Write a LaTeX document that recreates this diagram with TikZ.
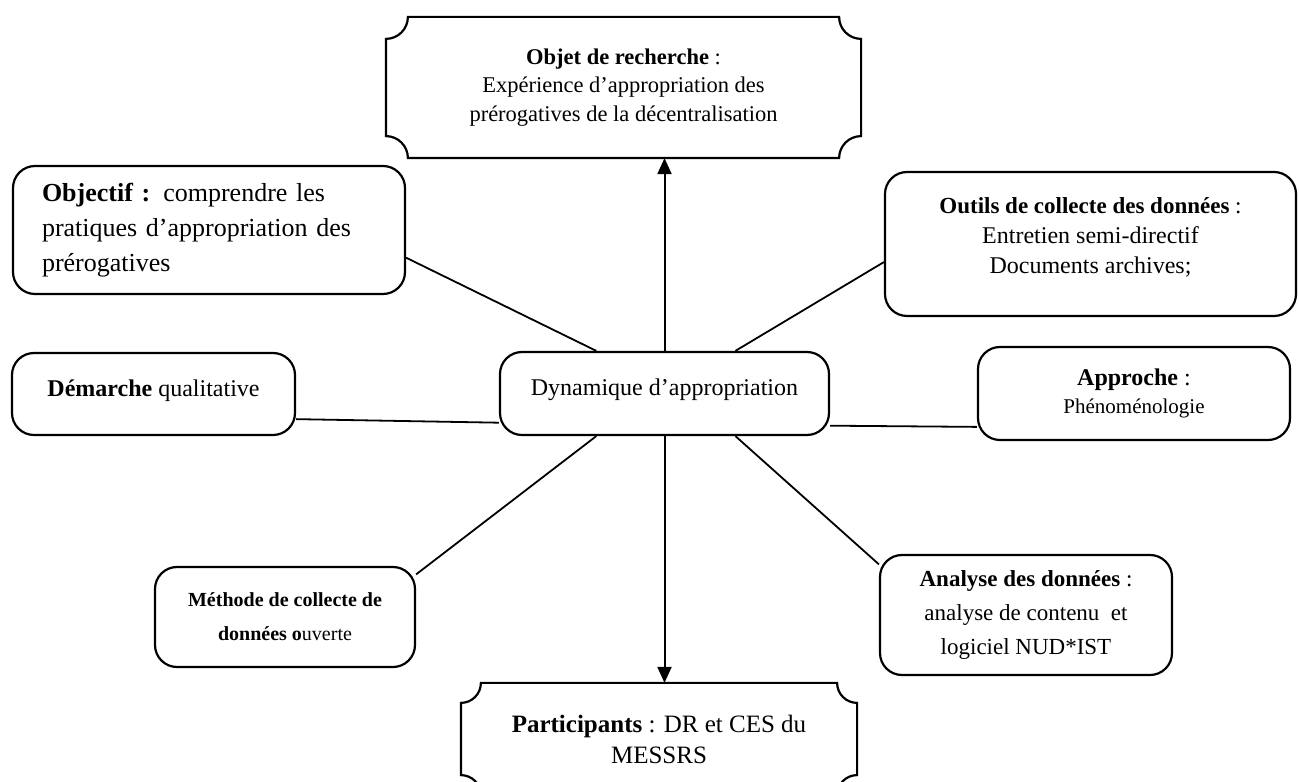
\documentclass[tikz,border=0pt]{standalone}
\usepackage{fontspec}
\setmainfont{Liberation Serif}
\usetikzlibrary{arrows.meta,calc}
\newcommand\drawplaque[2]{%
  \draw ($(#1.north west)+(#2,0)$) -- ($(#1.north east)+(-#2,0)$)
    arc[start angle=180,end angle=270,radius=#2]
    -- ($(#1.south east)+(0,#2)$)
    arc[start angle=90,end angle=180,radius=#2]
    -- ($(#1.south west)+(#2,0)$)
    arc[start angle=0,end angle=90,radius=#2]
    -- ($(#1.north west)+(0,-#2)$)
    arc[start angle=270,end angle=360,radius=#2] -- cycle;}
\begin{document}
\begin{tikzpicture}[x=1pt,y=1pt,line width=2.2pt,
  rbox/.style={draw,rounded corners=22pt,inner sep=0pt,align=center},
  pbox/.style={inner sep=0pt,align=center},
  link/.style={line width=1.8pt},
  arr/.style={line width=2pt,-{Triangle[length=16pt,width=14pt]}}]
\useasboundingbox (0,0) rectangle (1299,782);
\fill[white] (0,0) rectangle (1299,782);

\node[pbox,minimum width=473pt,minimum height=139pt,font=\fontsize{22.5}{28.5}\selectfont] (obj) at (623.5,694.5)
  {\textbf{Objet de recherche} :\\ Expérience d’appropriation des\\ prérogatives de la décentralisation};
\drawplaque{obj}{22pt}

\node[rbox,minimum width=392pt,minimum height=128pt,text width=334pt,align=left,font=\fontsize{26}{35}\selectfont] (objectif) at (209,552)
  {\textbf{Objectif :} comprendre les\\ pratiques d’appropriation des\\ prérogatives};

\node[rbox,minimum width=411pt,minimum height=144pt,font=\fontsize{24}{30}\selectfont] (outils) at (1090.5,538)
  {{\fontsize{23}{30}\selectfont\textbf{Outils de collecte des données} :}\\ Entretien semi-directif\\ Documents archives;\\[-14pt]};

\node[rbox,minimum width=283pt,minimum height=82pt,font=\fontsize{24}{28}\selectfont] (dem) at (153.5,388)
  {\textbf{Démarche} qualitative\\[-16pt]};

\node[rbox,minimum width=329pt,minimum height=83pt,font=\fontsize{24}{28}\selectfont] (dyn) at (664.5,388.5)
  {Dynamique d’appropriation\\[-16pt]};

\node[rbox,minimum width=312pt,minimum height=93pt,font=\fontsize{21}{28}\selectfont] (appr) at (1134,388.5)
  {{\fontsize{24}{28}\selectfont\textbf{Approche} :}\\ Phénoménologie};

\node[rbox,minimum width=260pt,minimum height=100pt,font=\fontsize{20}{34}\selectfont] (meth) at (285,165)
  {\textbf{Méthode de collecte de}\\ \textbf{données o}uverte};

\node[rbox,minimum width=292pt,minimum height=120pt,font=\fontsize{23}{34}\selectfont] (anal) at (1026,167)
  {\textbf{Analyse des données} :\\ analyse de contenu\ \ et\\ logiciel NUD*IST};

\node[pbox,minimum width=394pt,minimum height=110pt,font=\fontsize{25}{31}\selectfont] (part) at (659,43)
  {\textbf{Participants} : DR et CES du\\ MESSRS};
\drawplaque{part}{20pt}

\draw[arr] (dyn.north) -- (dyn.north |- obj.south);
\draw[arr] (dyn.south) -- (dyn.south |- part.north);
\draw[link] (objectif.-8) -- (dyn.148);
\draw[link] (outils.185) -- (dyn.31);
\draw[link] (dem.-10) -- (dyn.190);
\draw[link] (appr.192) -- (dyn.-11);
\draw[link] (meth.18) -- (dyn.212);
\draw[link] (anal.161) -- (dyn.-31);
\end{tikzpicture}
\end{document}
